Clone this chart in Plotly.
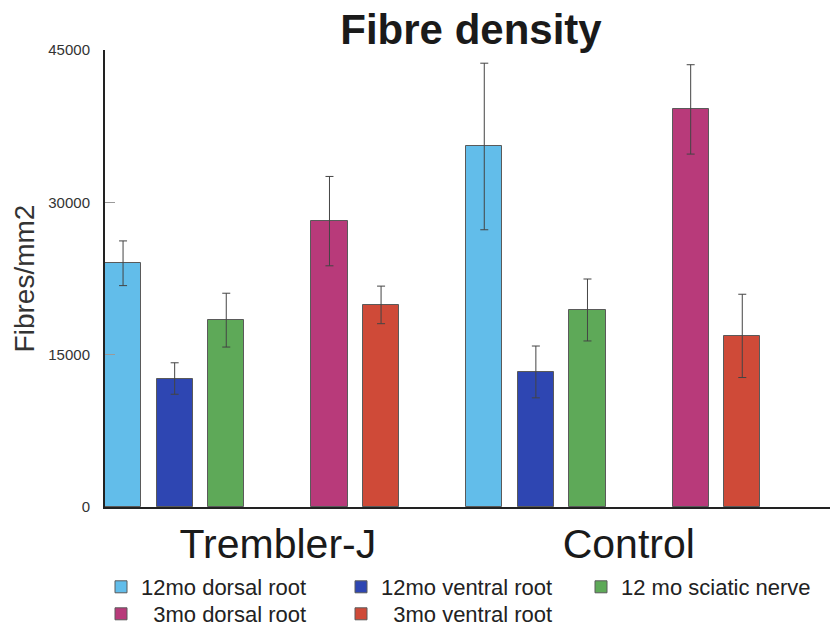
import plotly.graph_objects as go

# ---------------- data ----------------
groups = ["Trembler-J", "Control"]
series_names = ["12mo dorsal root", "12mo ventral root", "12 mo sciatic nerve",
                "\u00a0\u00a03mo dorsal root", "\u00a0\u00a03mo ventral root"]
dorsal_12mo = [24000, 35500]
dorsal_12mo_err = [2200, 8200]
ventral_12mo = [12650, 13300]
ventral_12mo_err = [1550, 2550]
sciatic_12mo = [18400, 19400]
sciatic_12mo_err = [2650, 3050]
dorsal_3mo = [28150, 39150]
dorsal_3mo_err = [4400, 4400]
ventral_3mo = [19900, 16850]
ventral_3mo_err = [1850, 4100]
y_ticks = [0, 15000, 30000, 45000]

values = [dorsal_12mo, ventral_12mo, sciatic_12mo, dorsal_3mo, ventral_3mo]
errors = [dorsal_12mo_err, ventral_12mo_err, sciatic_12mo_err, dorsal_3mo_err, ventral_3mo_err]

# ---------------- layout / style ----------------
colors = ["#62bdea", "#2e46b2", "#5ea958", "#b83a7a", "#cf4a38"]
slot_of_series = [0, 1, 2, 4, 5]   # one empty slot between 12mo and 3mo bars
group_stride = 7
label_pos = [3.0, 9.8]
legend_of_series = ["legend", "legend", "legend", "legend2", "legend2"]

FONT = "Liberation Sans, Arial, sans-serif"
W, H = 834, 626

fig = go.Figure()
for i, name in enumerate(series_names):
    xs = [g * group_stride + slot_of_series[i] for g in range(len(groups))]
    fig.add_trace(go.Bar(
        x=xs, y=values[i], name=name, width=0.7,
        marker=dict(color=colors[i], line=dict(color="#5a5a5a", width=1)),
        error_y=dict(type="data", array=errors[i], visible=True,
                     color="#444444", thickness=1, width=4),
        legend=legend_of_series[i],
    ))

fig.update_layout(
    width=W, height=H,
    paper_bgcolor="white", plot_bgcolor="white",
    font=dict(family=FONT, color="#222222"),
    margin=dict(l=105, r=4, t=50, b=119, autoexpand=False),
    title=dict(text="<b>Fibre density</b>", font=dict(size=42, color="#1a1a1a"),
               x=471 / W, xanchor="center", xref="container",
               y=1 - 29 / H, yanchor="middle", yref="container"),
    showlegend=True,
    legend=dict(orientation="h", xref="container", yref="container",
                x=101 / W, xanchor="left", y=1 - 587 / H, yanchor="middle",
                font=dict(size=22, color="#222222"), entrywidth=195,
                bgcolor="rgba(0,0,0,0)", traceorder="normal"),
    legend2=dict(orientation="h", xref="container", yref="container",
                 x=101 / W, xanchor="left", y=1 - 614 / H, yanchor="middle",
                 font=dict(size=22, color="#222222"), entrywidth=195,
                 bgcolor="rgba(0,0,0,0)", traceorder="normal"),
    bargap=0,
)

fig.update_xaxes(
    range=[-0.35, 13.70], tickvals=label_pos, ticktext=groups,
    tickfont=dict(size=41, color="#1a1a1a"), ticks="", showgrid=False,
    zeroline=False, showline=True, linecolor="#222222", linewidth=2,
    ticklabelstandoff=0, automargin=False,
)
fig.update_yaxes(
    range=[0, 45000], tickvals=y_ticks, ticktext=[str(v) for v in y_ticks],
    tickfont=dict(size=15, color="#333333"), ticks="inside", ticklen=10,
    tickcolor="#9a9a9a", showgrid=False, zeroline=False, showline=True,
    linecolor="#222222", linewidth=2, ticklabelstandoff=10, automargin=False,
    title=dict(text="Fibres/mm2", font=dict(size=28, color="#333333"), standoff=5),
)

fig.write_html("out.html", config={"displayModeBar": False},
               post_script="document.body.style.margin='0px';document.body.style.padding='0px';")
